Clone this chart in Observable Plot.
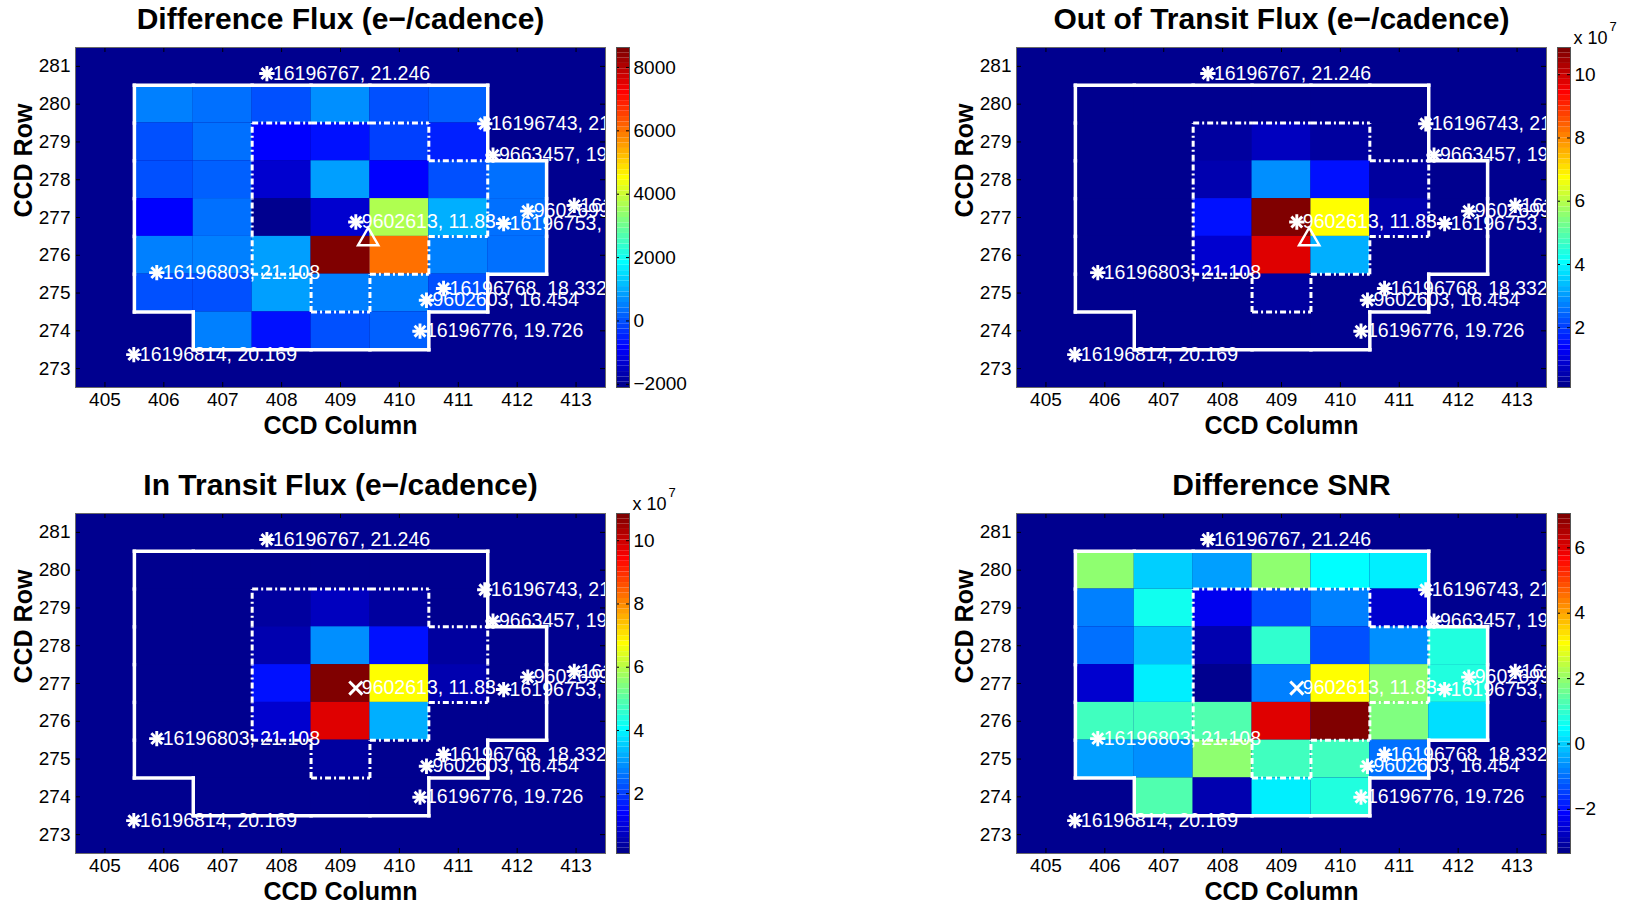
<!DOCTYPE html>
<html>
<head>
<meta charset="utf-8">
<script src="https://cdn.jsdelivr.net/npm/d3@7"></script>
<script src="https://cdn.jsdelivr.net/npm/@observablehq/plot@0.6"></script>
<style>
  html, body { margin: 0; padding: 0; background: #fff; }
  #fig { position: relative; width: 1625px; height: 908px; overflow: hidden;
         font-family: "Liberation Sans", Arial, Helvetica, sans-serif; }
  #fig svg { position: absolute; }
</style>
</head>
<body>
<div id="fig"></div>
<script>
// ---- pixel grid (CCD column / row of each image pixel) ----
const pixelCols = [406, 407, 408, 409, 410, 411, 412];
const pixelRows = [280, 279, 278, 277, 276, 275, 274];

// axis ticks
const colTicks = [405, 406, 407, 408, 409, 410, 411, 412, 413];
const rowTicks = [273, 274, 275, 276, 277, 278, 279, 280, 281];

// difference flux, e-/cadence (null = pixel not collected)
const diffFlux = [
  [582, 261, 46, 690, 46, 100, null],
  [46, 341, -759, -598, -169, -490, null],
  [46, 153, -1349, 851, -759, -61, 341],
  [-920, 341, -2100, -1429, 3614, 1012, 261],
  [502, 502, 851, 8630, 6108, 582, 261],
  [46, 46, 797, 422, 502, -61, null],
  [null, 422, -598, 46, 153, null, null]
];
const diffClim = [-2100, 8630];
const diffTicks = [-2000, 0, 2000, 4000, 6000, 8000];

// out-of-transit flux, units of 1e7 e-/cadence
const outFlux = [
  [0.16, 0.19, 0.23, 0.25, 0.22, 0.18, null],
  [0.18, 0.24, 0.43, 0.70, 0.43, 0.21, null],
  [0.20, 0.27, 0.60, 2.80, 1.50, 0.35, 0.17],
  [0.19, 0.26, 1.60, 10.85, 6.82, 0.50, 0.18],
  [0.17, 0.22, 0.92, 9.78, 3.22, 0.26, 0.16],
  [0.15, 0.18, 0.24, 0.35, 0.27, 0.19, null],
  [null, 0.14, 0.17, 0.20, 0.18, null, null]
];
const outClim = [0.11, 10.86];

// in-transit flux, units of 1e7 e-/cadence
const inFlux = [
  [0.16, 0.19, 0.23, 0.25, 0.22, 0.18, null],
  [0.18, 0.24, 0.43, 0.70, 0.43, 0.21, null],
  [0.20, 0.27, 0.60, 2.80, 1.50, 0.35, 0.17],
  [0.19, 0.26, 1.60, 10.84, 6.82, 0.50, 0.18],
  [0.17, 0.22, 0.92, 9.77, 3.22, 0.26, 0.16],
  [0.15, 0.18, 0.24, 0.35, 0.27, 0.19, null],
  [null, 0.14, 0.17, 0.20, 0.18, null, null]
];
const inClim = [0.11, 10.86];
const fluxTicks = [2, 4, 6, 8, 10];

// difference signal-to-noise ratio
const diffSnr = [
  [1.85, -0.02, -0.44, 1.85, 0.39, 0.24, null],
  [-0.91, 0.55, -2.31, -1.37, -0.91, -2.62, null],
  [-1.06, -0.23, -3.01, 1.02, -1.37, -0.75, 0.86],
  [-2.62, 0.29, -3.35, -0.85, 2.99, 2.01, 0.86],
  [1.20, 1.20, 1.36, 6.07, 7.05, 1.69, 0.08],
  [-0.44, -0.59, 1.85, 1.20, 1.20, -1.06, null],
  [null, 1.36, -3.01, 0.24, 0.86, null, null]
];
const snrClim = [-3.35, 7.05];
const snrTicks = [-2, 0, 2, 4, 6];

// apertures, one string per pixel row ("1" = pixel inside)
const optimalAperture = ["111111.", "111111.", "1111111", "1111111", "1111111", "111111.", ".1111.."];
const centralAperture = [".......", "..111..", "..1111.", "..1111.", "..111..", "...1...", "......."];

// catalogue sources near the target: KIC id, magnitude and position
const sources = [
  {label: "16196767, 21.246", col: 407.75, row: 280.81},
  {label: "16196743, 21.", col: 411.45, row: 279.48},
  {label: "9663457, 19.", col: 411.59, row: 278.65},
  {label: "9602699, 1", col: 412.18, row: 277.17},
  {label: "16196", col: 412.97, row: 277.32},
  {label: "9602613, 11.83", col: 409.26, row: 276.88, target: true},
  {label: "16196753, 1", col: 411.77, row: 276.84},
  {label: "16196803, 21.108", col: 405.88, row: 275.54},
  {label: "16196768, 18.332", col: 410.75, row: 275.12},
  {label: "9602603, 16.454", col: 410.46, row: 274.81},
  {label: "16196776, 19.726", col: 410.35, row: 273.99},
  {label: "16196814, 20.169", col: 405.49, row: 273.37}
];
// flux-weighted centroid of the difference image
const centroid = [{col: 409.47, row: 276.42}];

// ---- MATLAB-style 64-level jet colormap ----
function jet(t) {
  const c = v => Math.round(255 * Math.max(0, Math.min(1, v)));
  const r = c(1.5 - Math.abs(4 * t - 3));
  const g = c(1.5 - Math.abs(4 * t - 2));
  const b = c(1.5 - Math.abs(4 * t - 1));
  return `rgb(${r},${g},${b})`;
}
const jet64 = t => jet((Math.min(63, Math.max(0, Math.floor(t * 64))) + 1) / 64);

// aperture boundary: one segment for every pixel side that faces the outside
function outline(mask) {
  const inside = (i, j) => i >= 0 && i < mask.length && j >= 0 && j < mask[i].length && mask[i][j] === "1";
  const segs = [];
  mask.forEach((line, i) => [...line].forEach((ch, j) => {
    if (ch !== "1") return;
    const c = pixelCols[j], r = pixelRows[i];
    if (!inside(i - 1, j)) segs.push({x1: c - 0.5, y1: r + 0.5, x2: c + 0.5, y2: r + 0.5});
    if (!inside(i + 1, j)) segs.push({x1: c - 0.5, y1: r - 0.5, x2: c + 0.5, y2: r - 0.5});
    if (!inside(i, j - 1)) segs.push({x1: c - 0.5, y1: r - 0.5, x2: c - 0.5, y2: r + 0.5});
    if (!inside(i, j + 1)) segs.push({x1: c + 0.5, y1: r - 0.5, x2: c + 0.5, y2: r + 0.5});
  }));
  return segs;
}

const FONT = "Liberation Sans, Arial, Helvetica, sans-serif";
const W = 640, H = 440, ML = 75, MR = 35, MT = 47, MB = 53;
const FW = W - ML - MR, FH = H - MT - MB;
const fmt = d => (d < 0 ? "\u2212" + Math.abs(d) : String(d));

function heatPanel(p) {
  const cells = pixelRows.flatMap((row, i) => pixelCols.map((col, j) => ({col, row, v: p.grid[i][j]})))
    .filter(d => d.v != null);
  const stars = p.inTransitStyle ? sources.filter(d => !d.target) : sources;
  const starOpts = {x: "col", y: "row", r: 5, stroke: "white", strokeWidth: 2.9, fill: "none"};
  return Plot.plot({
    width: W, height: H, marginLeft: ML, marginRight: MR, marginTop: MT, marginBottom: MB,
    x: {domain: [404.5, 413.5], axis: null},
    y: {domain: [272.5, 281.5], axis: null},
    color: {type: "linear", domain: p.clim, interpolate: jet64},
    style: {fontFamily: FONT, color: "black", background: "transparent", overflow: "visible"},
    marks: [
      Plot.frame({fill: jet64(0)}),
      Plot.rect(cells, {x1: d => d.col - 0.5, x2: d => d.col + 0.5, y1: d => d.row - 0.5, y2: d => d.row + 0.5, fill: "v"}),
      Plot.tickX(colTicks, {x: d => d, insetTop: FH - 5, stroke: "black"}),
      Plot.tickX(colTicks, {x: d => d, insetBottom: FH - 5, stroke: "black"}),
      Plot.tickY(rowTicks, {y: d => d, insetRight: FW - 5, stroke: "black"}),
      Plot.tickY(rowTicks, {y: d => d, insetLeft: FW - 5, stroke: "black"}),
      Plot.link(outline(optimalAperture), {x1: "x1", y1: "y1", x2: "x2", y2: "y2",
        stroke: "white", strokeWidth: 3.5, strokeLinecap: "square"}),
      Plot.link(outline(centralAperture), {x1: "x1", y1: "y1", x2: "x2", y2: "y2",
        stroke: "white", strokeWidth: 3, strokeDasharray: "6,3,2,3"}),
      Plot.text(sources, {x: "col", y: "row", text: "label", textAnchor: "start", dx: 6,
        fill: "white", fontSize: 19.5, clip: true}),
      Plot.dot(stars, {...starOpts, symbol: "plus"}),
      Plot.dot(stars, {...starOpts, symbol: "times"}),
      p.inTransitStyle
        ? Plot.dot(sources.filter(d => d.target), {x: "col", y: "row", symbol: "times", r: 6, stroke: "white", strokeWidth: 3, fill: "none"})
        : Plot.dot(centroid, {x: "col", y: "row", symbol: "triangle", r: 7.5, stroke: "white", strokeWidth: 2.5, fill: "none"}),
      Plot.frame({stroke: "#6a6a6a", strokeWidth: 1}),
      Plot.axisX(colTicks, {anchor: "bottom", tickSize: 0, tickPadding: 5, fontSize: 19, label: null}),
      Plot.axisY(rowTicks, {anchor: "left", tickSize: 0, tickPadding: 5, fontSize: 19, label: null}),
      Plot.text([p.title], {text: d => d, frameAnchor: "top", lineAnchor: "middle", dy: -28, fontSize: 30, fontWeight: "bold"}),
      Plot.text(["CCD Column"], {text: d => d, frameAnchor: "bottom", lineAnchor: "middle", dy: 38, fontSize: 25, fontWeight: "bold"}),
      Plot.text(["CCD Row"], {text: d => d, frameAnchor: "left", lineAnchor: "middle", dx: -52, rotate: -90, fontSize: 25, fontWeight: "bold"})
    ]
  });
}

function colorbar(p) {
  const [lo, hi] = p.clim;
  const bands = d3.range(64).map(i => ({y1: lo + (hi - lo) * i / 64, y2: lo + (hi - lo) * (i + 1) / 64}));
  const marks = [
    Plot.rect(bands, {x1: 0, x2: 1, y1: "y1", y2: "y2", fill: d => (d.y1 + d.y2) / 2}),
    Plot.tickY(p.ticks, {y: d => d, insetRight: 10, stroke: "black"}),
    Plot.tickY(p.ticks, {y: d => d, insetLeft: 10, stroke: "black"}),
    Plot.frame({stroke: "#555", strokeWidth: 1}),
    Plot.axisY(p.ticks, {anchor: "right", tickSize: 0, tickPadding: 4, fontSize: 19, label: null, tickFormat: fmt})
  ];
  if (p.exponent) {
    marks.push(
      Plot.text(["x 10"], {text: d => d, frameAnchor: "top-right", lineAnchor: "middle", textAnchor: "start", dx: 3, dy: -9, fontSize: 18}),
      Plot.text([p.exponent], {text: d => d, frameAnchor: "top-right", lineAnchor: "middle", textAnchor: "start", dx: 39, dy: -21, fontSize: 13})
    );
  }
  return Plot.plot({
    width: 100, height: H, marginLeft: 16, marginRight: 71, marginTop: MT, marginBottom: MB,
    x: {domain: [0, 1], axis: null},
    y: {domain: p.clim, axis: null},
    color: {type: "linear", domain: p.clim, interpolate: jet64},
    style: {fontFamily: FONT, color: "black", background: "transparent", overflow: "visible"},
    marks
  });
}

const panels = [
  {title: "Difference Flux (e\u2212/cadence)", grid: diffFlux, clim: diffClim, ticks: diffTicks, left: 0, top: 0},
  {title: "Out of Transit Flux (e\u2212/cadence)", grid: outFlux, clim: outClim, ticks: fluxTicks, exponent: "7", left: 941, top: 0},
  {title: "In Transit Flux (e\u2212/cadence)", grid: inFlux, clim: inClim, ticks: fluxTicks, exponent: "7", left: 0, top: 466, inTransitStyle: true},
  {title: "Difference SNR", grid: diffSnr, clim: snrClim, ticks: snrTicks, left: 941, top: 466, inTransitStyle: true}
];

const fig = document.getElementById("fig");
for (const p of panels) {
  const svg = heatPanel(p);
  svg.style.left = p.left + "px";
  svg.style.top = p.top + "px";
  fig.appendChild(svg);
  const cb = colorbar(p);
  cb.style.left = (p.left + ML + FW + 11 - 16) + "px";
  cb.style.top = p.top + "px";
  fig.appendChild(cb);
}
</script>
</body>
</html>
